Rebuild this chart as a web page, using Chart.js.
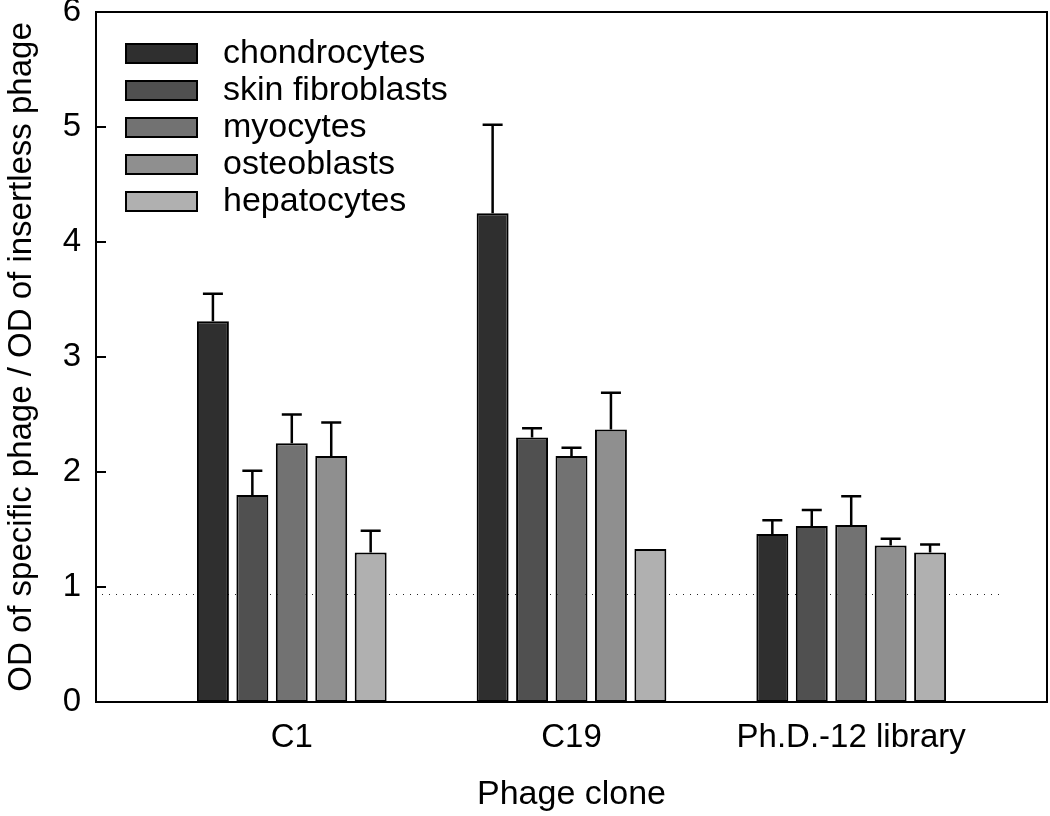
<!DOCTYPE html>
<html>
<head>
<meta charset="utf-8">
<script src="https://cdn.jsdelivr.net/npm/chart.js@4.4.1/dist/chart.umd.min.js"></script>
<style>
  html, body { margin: 0; padding: 0; background: #fff; }
  #wrap { width: 1050px; height: 816px; }
</style>
</head>
<body>
<div id="wrap"><canvas id="chart"></canvas></div>
<script>
/* Phage binding ratio per cell type — grouped bars with upper error bars */
const CATEGORIES = ['C1', 'C19', 'Ph.D.-12 library'];
const SERIES = ['chondrocytes', 'skin fibroblasts', 'myocytes', 'osteoblasts', 'hepatocytes'];

const CHONDRO = [3.31, 4.25, 1.46];
const SKIN    = [1.80, 2.30, 1.53];
const MYO     = [2.25, 2.14, 1.54];
const OSTEO   = [2.14, 2.37, 1.36];
const HEPATO  = [1.30, 1.33, 1.30];

const CHONDRO_ERR = [0.24, 0.77, 0.12];
const SKIN_ERR    = [0.21, 0.08, 0.14];
const MYO_ERR     = [0.25, 0.07, 0.25];
const OSTEO_ERR   = [0.29, 0.32, 0.06];
const HEPATO_ERR  = [0.19, 0,    0.07];

const Y_TICKS = [0, 1, 2, 3, 4, 5, 6];
const REF_Y = 0.94;              // dotted baseline
const REF_X = [-0.68, 2.53];     // extent of the dotted line (x units)

const COLORS = ['#2f2f2f', '#505050', '#727272', '#8f8f8f', '#b0b0b0'];
const FONT = '"Liberation Sans", Arial, sans-serif';

const values = [CHONDRO, SKIN, MYO, OSTEO, HEPATO];
const errors = [CHONDRO_ERR, SKIN_ERR, MYO_ERR, OSTEO_ERR, HEPATO_ERR];

const datasets = SERIES.map((name, i) => ({
  label: name,
  data: values[i].map((v, j) => ({x: j, y: v})),
  err: errors[i],
  backgroundColor: COLORS[i],
  borderColor: '#000',
  borderWidth: 2,
  borderSkipped: false,
  categoryPercentage: 0.705,
  barPercentage: 0.81,
}));

/* error bars, dotted line, frame, inward ticks, legend */
const decor = {
  id: 'decor',
  beforeDatasetsDraw(chart) {
    const {ctx, scales: {x, y}} = chart;
    const py = Math.round(y.getPixelForValue(REF_Y)) + 0.5;
    ctx.save();
    ctx.strokeStyle = '#222';
    ctx.lineWidth = 1;
    ctx.setLineDash([1, 6]);
    ctx.beginPath();
    ctx.moveTo(Math.round(x.getPixelForValue(REF_X[0])), py);
    ctx.lineTo(Math.round(x.getPixelForValue(REF_X[1])), py);
    ctx.stroke();
    ctx.restore();
  },
  afterDatasetsDraw(chart) {
    const {ctx, scales: {y}} = chart;
    ctx.save();
    ctx.strokeStyle = '#000';
    ctx.lineWidth = 2.5;
    chart.data.datasets.forEach((ds, i) => {
      const meta = chart.getDatasetMeta(i);
      meta.data.forEach((bar, j) => {
        const e = ds.err[j];
        if (!e) return;
        const top = y.getPixelForValue(ds.data[j].y + e);
        ctx.beginPath();
        ctx.moveTo(bar.x, bar.y);
        ctx.lineTo(bar.x, top);
        ctx.moveTo(bar.x - 10, top);
        ctx.lineTo(bar.x + 10, top);
        ctx.stroke();
      });
    });
    ctx.restore();
  },
  afterDraw(chart) {
    const {ctx, chartArea: a, scales: {y}} = chart;
    ctx.save();
    ctx.strokeStyle = '#000';
    ctx.lineWidth = 2;
    ctx.strokeRect(a.left, a.top, a.right - a.left, a.bottom - a.top);
    ctx.beginPath();
    Y_TICKS.slice(1, -1).forEach(t => {
      const py = y.getPixelForValue(t);
      ctx.moveTo(a.left, py);
      ctx.lineTo(a.left + 10, py);
    });
    ctx.stroke();

    // legend
    ctx.font = '34px ' + FONT;
    ctx.textBaseline = 'middle';
    ctx.textAlign = 'left';
    SERIES.forEach((name, i) => {
      const cy = 53 + i * 37;
      ctx.fillStyle = COLORS[i];
      ctx.fillRect(126, cy - 9, 71, 19);
      ctx.strokeRect(126, cy - 9, 71, 19);
      ctx.fillStyle = '#000';
      ctx.fillText(name, 223, cy + 1);
    });
    ctx.restore();
  },
};

new Chart(document.getElementById('chart'), {
  type: 'bar',
  data: {datasets},
  plugins: [decor],
  options: {
    responsive: true,
    maintainAspectRatio: false,
    animation: false,
    layout: {padding: {top: 12, right: 3, left: 0, bottom: 0}},
    plugins: {legend: {display: false}, tooltip: {enabled: false}},
    scales: {
      x: {
        type: 'linear',
        min: -0.7,
        max: 2.7,
        offset: false,
        grid: {display: false, drawTicks: false},
        border: {display: false},
        afterBuildTicks: (s) => { s.ticks = CATEGORIES.map((_, i) => ({value: i})); },
        afterFit: (s) => { s.height = 114; s.paddingLeft = 0; s.paddingRight = 0; },
        ticks: {
          padding: 16,
          color: '#000',
          font: {family: FONT, size: 33},
          callback: (v) => CATEGORIES[v],
          maxRotation: 0,
        },
        title: {
          display: true,
          text: 'Phage clone',
          color: '#000',
          font: {family: FONT, size: 34},
          padding: {top: 0, bottom: 1},
        },
      },
      y: {
        min: 0,
        max: 6,
        grid: {display: false, drawTicks: false},
        border: {display: false},
        afterBuildTicks: (s) => { s.ticks = Y_TICKS.map(v => ({value: v})); },
        afterFit: (s) => { s.width = 96; s.paddingTop = 0; s.paddingBottom = 0; },
        ticks: {
          padding: 15,
          color: '#000',
          font: {family: FONT, size: 33},
        },
        title: {
          display: true,
          text: 'OD of specific phage / OD of insertless phage',
          color: '#000',
          font: {family: FONT, size: 33},
          padding: {top: 2, bottom: 0},
        },
      },
    },
  },
});
</script>
</body>
</html>
